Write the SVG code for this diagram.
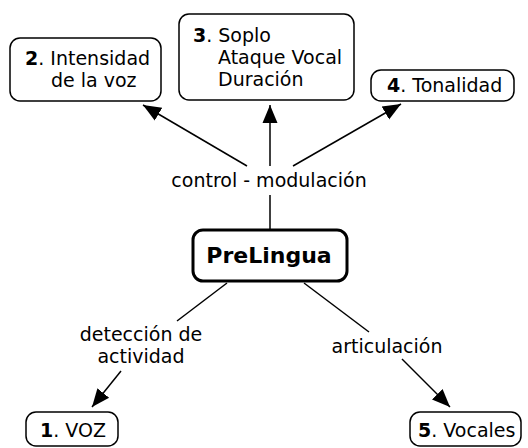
<svg xmlns="http://www.w3.org/2000/svg" width="528" height="448" viewBox="0 0 528 448">
<defs>
<marker id="arr" markerUnits="userSpaceOnUse" markerWidth="20" markerHeight="20" viewBox="0 0 20 20" refX="18" refY="10" orient="auto">
<path d="M0,2.5 L18,10 L0,17.5 Z" fill="#000"/>
</marker>
<style>
.box{fill:#fff;stroke:#000;stroke-width:1.5}
.main{fill:#fff;stroke:#000;stroke-width:3}
text{font-family:"DejaVu Sans","Verdana",sans-serif;font-size:19px;fill:#000}
.b{font-weight:bold}
.c{text-anchor:middle}
.e{stroke:#000;stroke-width:1.5;fill:none}
</style>
</defs>
<rect width="528" height="448" fill="#fff"/>
<g id="connectors">
<line class="e" x1="270" y1="230" x2="270" y2="195"/>
<line class="e" x1="270" y1="166" x2="270" y2="105" marker-end="url(#arr)"/>
<line class="e" x1="247" y1="166" x2="143" y2="105" marker-end="url(#arr)"/>
<line class="e" x1="293" y1="166" x2="401" y2="104" marker-end="url(#arr)"/>
<line class="e" x1="227" y1="283" x2="177" y2="321"/>
<line class="e" x1="121" y1="371" x2="92" y2="407" marker-end="url(#arr)"/>
<line class="e" x1="304" y1="283" x2="369" y2="332"/>
<line class="e" x1="402" y1="359" x2="450" y2="407" marker-end="url(#arr)"/>
<text class="c" x="269" y="187">control - modulación</text>
<text class="c" x="141" y="341">detección de</text>
<text class="c" x="141" y="363">actividad</text>
<text class="c" x="387" y="353">articulación</text>
</g>
<g id="n2">
<rect class="box" x="10" y="38" width="151" height="63" rx="10"/>
<text x="25" y="65"><tspan class="b">2</tspan>. Intensidad</text>
<text x="51" y="87">de la voz</text>
</g>
<g id="n3">
<rect class="box" x="179" y="14" width="175" height="86" rx="10"/>
<text x="193" y="42"><tspan class="b">3</tspan>. Soplo</text>
<text x="218" y="64">Ataque Vocal</text>
<text x="218" y="86">Duración</text>
</g>
<g id="n4">
<rect class="box" x="371" y="70" width="143" height="31" rx="10"/>
<text x="387" y="92"><tspan class="b">4</tspan>. Tonalidad</text>
</g>
<g id="prelingua">
<rect class="main" x="193" y="230" width="154" height="51" rx="10"/>
<text class="b c" x="269" y="263" style="font-size:22px">PreLingua</text>
</g>
<g id="n1">
<rect class="box" x="26" y="412" width="92" height="34" rx="10"/>
<text x="40" y="437"><tspan class="b">1</tspan>. VOZ</text>
</g>
<g id="n5">
<rect class="box" x="410" y="412" width="111" height="34" rx="10"/>
<text x="418" y="437"><tspan class="b">5</tspan>. Vocales</text>
</g>
</svg>
